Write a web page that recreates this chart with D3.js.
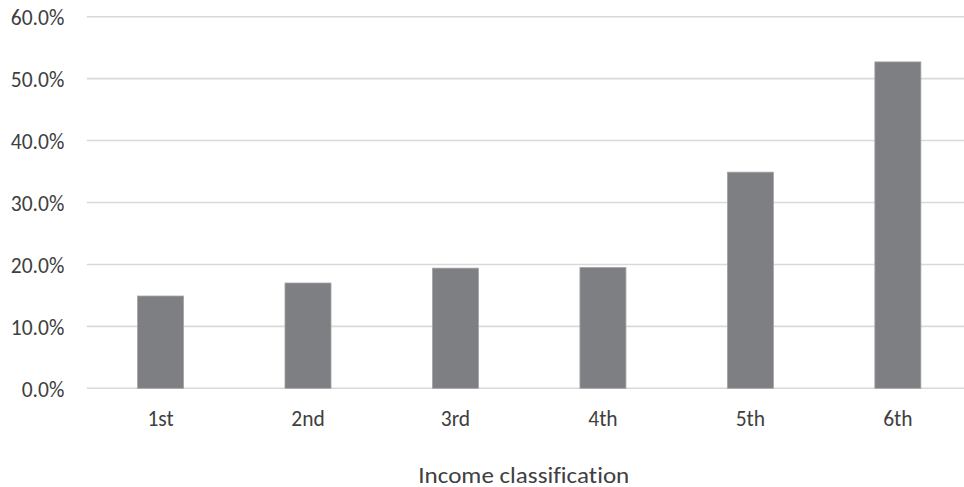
<!DOCTYPE html>
<html>
<head>
<meta charset="utf-8">
<script src="https://cdn.jsdelivr.net/npm/d3@7"></script>
<style>
  html, body { margin: 0; padding: 0; background: #fff; }
  svg { display: block; }
  text { font-family: Carlito, Calibri, Lato, "Open Sans", sans-serif; fill: #404040; font-variant-ligatures: none; }
</style>
</head>
<body>
<svg id="chart" width="964" height="487"></svg>
<script>
// Share by income classification
const categories = ["1st", "2nd", "3rd", "4th", "5th", "6th"];
const shares = [0.149, 0.170, 0.194, 0.195, 0.349, 0.527];
const yTicks = [0, 0.1, 0.2, 0.3, 0.4, 0.5, 0.6];
const xTitle = "Income classification";

const svg = d3.select("#chart");
const fontStack = "Carlito, Calibri, Lato, 'Open Sans', sans-serif";

const plotLeft = 86.8, plotRight = 971.6;
const y = d3.scaleLinear().domain([0, 0.6]).range([388.3, 16.7]);
const x = d3.scaleBand()
  .domain(categories)
  .range([plotLeft, plotRight])
  .paddingInner(0.688)
  .paddingOuter(0.344);

// horizontal gridlines
svg.append("g")
  .selectAll("line")
  .data(yTicks)
  .join("line")
  .attr("x1", plotLeft)
  .attr("x2", plotRight)
  .attr("y1", d => y(d))
  .attr("y2", d => y(d))
  .attr("stroke", "#d9d9d9")
  .attr("stroke-width", 1.6);

// y-axis labels
const yAxis = d3.axisLeft(y)
  .tickValues(yTicks)
  .tickFormat(d3.format(".1%"))
  .tickSize(0)
  .tickPadding(0);
const yg = svg.append("g")
  .attr("transform", `translate(64.3,0)`)
  .call(yAxis);
yg.select(".domain").remove();
yg.selectAll("text")
  .attr("font-size", 21.5)
  .attr("dy", "0.37em")
  .style("font-family", fontStack)
  .attr("fill", "#404040");

// bars
svg.append("g")
  .selectAll("rect")
  .data(categories.map((c, i) => ({ c, v: shares[i] })))
  .join("rect")
  .attr("x", d => x(d.c))
  .attr("width", x.bandwidth())
  .attr("y", d => y(d.v))
  .attr("height", d => y(0) - y(d.v))
  .attr("fill", "#7e7f83")
  .attr("stroke", "#a3a3a6")
  .attr("stroke-width", 0.8);

// x-axis labels
const xAxis = d3.axisBottom(x).tickSize(0).tickPadding(0);
const xg = svg.append("g")
  .attr("transform", `translate(0,425.7)`)
  .call(xAxis);
xg.select(".domain").remove();
xg.selectAll("text")
  .attr("y", 0)
  .attr("dy", 0)
  .attr("font-size", 21.5)
  .style("font-family", fontStack)
  .attr("fill", "#404040");

// axis title
svg.append("text")
  .attr("x", 418.3)
  .attr("y", 482.5)
  .attr("font-size", 22.5)
  .attr("textLength", 211)
  .attr("lengthAdjust", "spacingAndGlyphs")
  .text(xTitle);
</script>
</body>
</html>
